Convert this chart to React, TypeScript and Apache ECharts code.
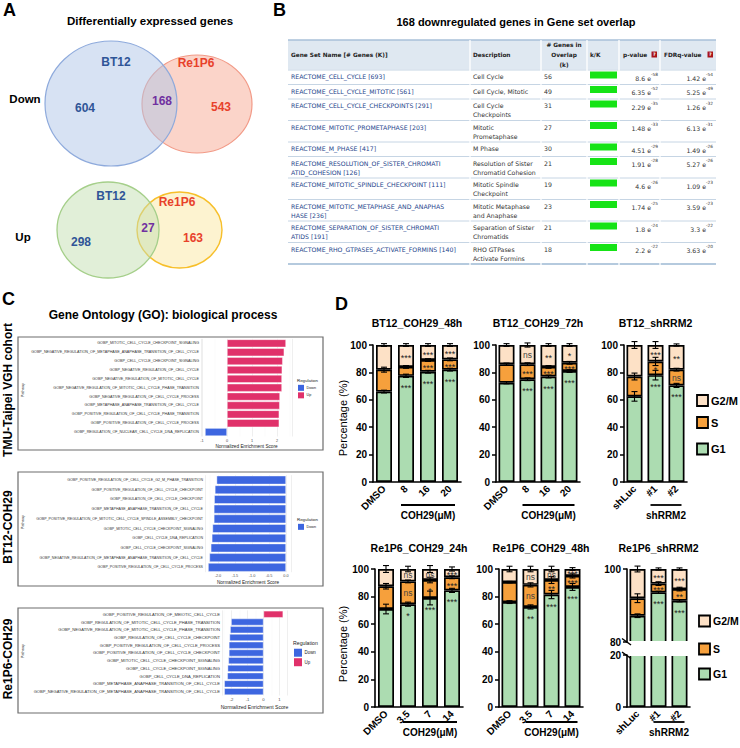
import { useEffect, useRef } from 'react';
import * as echarts from 'echarts';

const ARIAL = '"Liberation Sans", Arial, Helvetica, sans-serif';
const VERD = '"DejaVu Sans", Verdana, sans-serif';

// ---------------- Panel A: Venn counts ----------------
const vennSets = ['BT12', 'Re1P6'];
const vennDown = [604, 168, 543]; // BT12 only, shared, Re1P6 only
const vennUp = [298, 27, 163];

// ---------------- Panel B: gene set overlap table ----------------
const gsNameLines = [
  ['REACTOME_CELL_CYCLE [693]'],
  ['REACTOME_CELL_CYCLE_MITOTIC [561]'],
  ['REACTOME_CELL_CYCLE_CHECKPOINTS [291]'],
  ['REACTOME_MITOTIC_PROMETAPHASE [203]'],
  ['REACTOME_M_PHASE [417]'],
  ['REACTOME_RESOLUTION_OF_SISTER_CHROMATI', 'ATID_COHESION [126]'],
  ['REACTOME_MITOTIC_SPINDLE_CHECKPOINT [111]'],
  ['REACTOME_MITOTIC_METAPHASE_AND_ANAPHAS', 'HASE [236]'],
  ['REACTOME_SEPARATION_OF_SISTER_CHROMATI', 'ATIDS [191]'],
  ['REACTOME_RHO_GTPASES_ACTIVATE_FORMINS [140]'],
];
const gsDescLines = [
  ['Cell Cycle'],
  ['Cell Cycle, Mitotic'],
  ['Cell Cycle', 'Checkpoints'],
  ['Mitotic', 'Prometaphase'],
  ['M Phase'],
  ['Resolution of Sister', 'Chromatid Cohesion'],
  ['Mitotic Spindle', 'Checkpoint'],
  ['Mitotic Metaphase', 'and Anaphase'],
  ['Separation of Sister', 'Chromatids'],
  ['RHO GTPases', 'Activate Formins'],
];
const gsOverlap = [56, 49, 31, 27, 30, 21, 19, 23, 21, 18];
const gsPMant = ['8.6', '6.35', '2.29', '1.48', '4.51', '1.91', '4.6', '1.74', '1.8', '2.2'];
const gsPExp = [-58, -52, -35, -33, -29, -28, -26, -25, -24, -22];
const gsFdrMant = ['1.42', '5.25', '1.26', '6.13', '1.49', '5.27', '1.09', '3.59', '3.3', '3.63'];
const gsFdrExp = [-54, -49, -32, -31, -26, -26, -23, -23, -22, -20];

// ---------------- Panel C: GO enrichment ----------------
const tmuPathways = [
  'GOBP_MITOTIC_CELL_CYCLE_CHECKPOINT_SIGNALING',
  'GOBP_NEGATIVE_REGULATION_OF_METAPHASE_ANAPHASE_TRANSITION_OF_CELL_CYCLE',
  'GOBP_CELL_CYCLE_CHECKPOINT_SIGNALING',
  'GOBP_NEGATIVE_REGULATION_OF_CELL_CYCLE',
  'GOBP_NEGATIVE_REGULATION_OF_MITOTIC_CELL_CYCLE',
  'GOBP_NEGATIVE_REGULATION_OF_MITOTIC_CELL_CYCLE_PHASE_TRANSITION',
  'GOBP_NEGATIVE_REGULATION_OF_CELL_CYCLE_PROCESS',
  'GOBP_METAPHASE_ANAPHASE_TRANSITION_OF_CELL_CYCLE',
  'GOBP_POSITIVE_REGULATION_OF_CELL_CYCLE_PHASE_TRANSITION',
  'GOBP_POSITIVE_REGULATION_OF_CELL_CYCLE_PROCESS',
  'GOBP_REGULATION_OF_NUCLEAR_CELL_CYCLE_DNA_REPLICATION',
];
const tmuNES = [2.36, 2.29, 2.23, 2.21, 2.2, 2.2, 2.12, 2.11, 2.09, 2.09, -0.88];

const bt12Pathways = [
  'GOBP_POSITIVE_REGULATION_OF_CELL_CYCLE_G2_M_PHASE_TRANSITION',
  'GOBP_POSITIVE_REGULATION_OF_CELL_CYCLE_CHECKPOINT',
  'GOBP_REGULATION_OF_CELL_CYCLE_CHECKPOINT',
  'GOBP_METAPHASE_ANAPHASE_TRANSITION_OF_CELL_CYCLE',
  'GOBP_POSITIVE_REGULATION_OF_MITOTIC_CELL_CYCLE_SPINDLE_ASSEMBLY_CHECKPOINT',
  'GOBP_MITOTIC_CELL_CYCLE_CHECKPOINT_SIGNALING',
  'GOBP_CELL_CYCLE_DNA_REPLICATION',
  'GOBP_CELL_CYCLE_CHECKPOINT_SIGNALING',
  'GOBP_NEGATIVE_REGULATION_OF_METAPHASE_ANAPHASE_TRANSITION_OF_CELL_CYCLE',
  'GOBP_POSITIVE_REGULATION_OF_CELL_CYCLE_PROCESS',
];
const bt12NES = [-2.04, -2.09, -2.11, -2.12, -2.12, -2.16, -2.18, -2.21, -2.25, -2.29];

const re1p6Pathways = [
  'GOBP_POSITIVE_REGULATION_OF_MEIOTIC_CELL_CYCLE',
  'GOBP_REGULATION_OF_MITOTIC_CELL_CYCLE_PHASE_TRANSITION',
  'GOBP_NEGATIVE_REGULATION_OF_MITOTIC_CELL_CYCLE_PHASE_TRANSITION',
  'GOBP_REGULATION_OF_CELL_CYCLE_CHECKPOINT',
  'GOBP_POSITIVE_REGULATION_OF_CELL_CYCLE_PROCESS',
  'GOBP_POSITIVE_REGULATION_OF_CELL_CYCLE_CHECKPOINT',
  'GOBP_MITOTIC_CELL_CYCLE_CHECKPOINT_SIGNALING',
  'GOBP_CELL_CYCLE_CHECKPOINT_SIGNALING',
  'GOBP_CELL_CYCLE_DNA_REPLICATION',
  'GOBP_METAPHASE_ANAPHASE_TRANSITION_OF_CELL_CYCLE',
  'GOBP_NEGATIVE_REGULATION_OF_METAPHASE_ANAPHASE_TRANSITION_OF_CELL_CYCLE',
];
const re1p6NES = [1.23, -2.03, -2.09, -2.13, -2.17, -2.17, -2.2, -2.25, -2.27, -2.46, -2.46];

// ---------------- Panel D: cell-cycle distribution ----------------
const doseBT12 = ['DMSO', '8', '16', '20'];
const doseRe1P6 = ['DMSO', '3.5', '7', '14'];
const shLabels = ['shLuc', '#1', '#2'];
const phaseLegend = ['G2/M', 'S', 'G1'];

const bt12_48h_G1 = [66, 77.5, 80.5, 82];
const bt12_48h_S = [16, 6.5, 8.5, 7.5];
const bt12_48h_G2M = [18, 16, 11, 10.5];
const bt12_48h_errG1 = [1, 1.2, 1, 1];
const bt12_48h_errS = [1.8, 1, 1, 1];
const bt12_48h_errTop = [1, 1, 1, 1];
const bt12_48h_sig = [['', '', ''], ['***', '', '***'], ['***', '***', '***'], ['***', '***', '***']];

const bt12_72h_G1 = [72.5, 75, 77, 81];
const bt12_72h_S = [13.5, 11, 7, 6];
const bt12_72h_G2M = [14, 14, 16, 13];
const bt12_72h_errG1 = [0.8, 1, 1, 1];
const bt12_72h_errS = [0.8, 1, 1, 1];
const bt12_72h_errTop = [1, 1.5, 1, 1];
const bt12_72h_sig = [['', '', ''], ['ns', '***', '***'], ['**', '***', '***'], ['*', '***', '***']];

const bt12_sh_G1 = [62.5, 78, 70.5];
const bt12_sh_S = [14.5, 10, 11.5];
const bt12_sh_G2M = [23, 12, 18];
const bt12_sh_errG1 = [3.5, 3.5, 1.5];
const bt12_sh_errS = [2.5, 3, 1];
const bt12_sh_errTop = [2.5, 2.5, 0.8];
const bt12_sh_sig = [['', '', ''], ['***', '*', '***'], ['**', 'ns', '***']];

const re1p6_24h_G1 = [71, 74.5, 79, 84.5];
const re1p6_24h_S = [16.5, 16.5, 13, 9.5];
const re1p6_24h_G2M = [12.5, 9, 8, 6];
const re1p6_24h_errG1 = [3.5, 1.5, 5, 1.5];
const re1p6_24h_errS = [2, 1, 2, 1];
const re1p6_24h_errTop = [2.5, 2, 2.5, 1.5];
const re1p6_24h_sig = [['', '', ''], ['ns', 'ns', '*'], ['ns', '*', '***'], ['***', '***', '***']];

const re1p6_48h_G1 = [76, 72.5, 81.5, 87];
const re1p6_48h_S = [14.5, 16, 10.5, 8];
const re1p6_48h_G2M = [9.5, 11.5, 8, 5];
const re1p6_48h_errG1 = [1, 1.5, 3, 2.5];
const re1p6_48h_errS = [0.5, 1.5, 2.5, 1.5];
const re1p6_48h_errTop = [2, 2, 2, 1];
const re1p6_48h_sig = [['', '', ''], ['ns', 'ns', '**'], ['ns', '**', '***'], ['***', '***', '***']];

const re1p6_sh_G1 = [87.2, 93.6, 91.3];
const re1p6_sh_S = [4.8, 2.4, 3.2];
const re1p6_sh_G2M = [8, 4, 5.5];
const re1p6_sh_errG1 = [0.5, 0.3, 0.3];
const re1p6_sh_errS = [1.2, 0.5, 0.5];
const re1p6_sh_errTop = [0.8, 0.3, 0.3];
const re1p6_sh_sig = [['', '', ''], ['***', '***', '***'], ['***', '**', '***']];

// ---------------- styling ----------------
const BLUE_T = '#2f5597';
const RED_T = '#e8412b';
const PURPLE_T = '#7030a0';
const GO_DOWN = '#3d66e0';
const GO_UP = '#e0316a';
const C_G1 = '#acdcb1';
const C_S = '#f6a03c';
const C_G2M = '#fde1c6';

function buildOption() {
  const grid: any[] = [];
  const xAxis: any[] = [];
  const yAxis: any[] = [];
  const series: any[] = [];
  const g: any[] = [];

  const txt = (x: number, y: number, text: string, o: any = {}, extra: any = {}) => ({
    type: 'text', x, y, silent: true, ...extra,
    style: { text, fontFamily: ARIAL, fontSize: 10, fill: '#000', align: 'left', verticalAlign: 'middle', ...o },
  });
  const line = (x1: number, y1: number, x2: number, y2: number, stroke: string, lineWidth: number, extra: any = {}) => ({
    type: 'line', silent: true, shape: { x1, y1, x2, y2 }, style: { stroke, lineWidth }, ...extra,
  });
  const rect = (x: number, y: number, width: number, height: number, style: any, extra: any = {}) => ({
    type: 'rect', silent: true, shape: { x, y, width, height }, style, ...extra,
  });

  // panel letters
  const letter = { fontSize: 18, fontWeight: 'bold' };
  g.push(txt(3, 10, 'A', letter), txt(273, 10, 'B', letter), txt(2, 299, 'C', letter), txt(335, 304, 'D', letter));

  // ---------- Panel A ----------
  const bold12 = { fontSize: 12, fontWeight: 'bold', align: 'center' };
  g.push(txt(150, 21, 'Differentially expressed genes', { fontSize: 11.5, fontWeight: 'bold', align: 'center' }));
  g.push({ type: 'ellipse', silent: true, shape: { cx: 197, cy: 104, rx: 55, ry: 49 }, style: { fill: '#fbd4c9', stroke: '#f29a87', lineWidth: 1.2 } });
  g.push({ type: 'ellipse', silent: true, shape: { cx: 111, cy: 103.5, rx: 66, ry: 62.5 }, style: { fill: 'rgba(176,197,232,0.5)', stroke: '#8eaadc', lineWidth: 1.2 } });
  g.push(txt(25, 99, 'Down', { fontSize: 11.5, fontWeight: 'bold', align: 'center' }));
  g.push(txt(116, 62, vennSets[0], { ...bold12, fill: BLUE_T }));
  g.push(txt(196, 63, vennSets[1], { ...bold12, fill: RED_T }));
  g.push(txt(85, 108, String(vennDown[0]), { ...bold12, fill: BLUE_T }));
  g.push(txt(162, 101, String(vennDown[1]), { ...bold12, fill: PURPLE_T }));
  g.push(txt(221, 107, String(vennDown[2]), { ...bold12, fill: RED_T }));

  g.push({ type: 'ellipse', silent: true, shape: { cx: 179.5, cy: 230, rx: 42.5, ry: 38 }, style: { fill: '#fdf3d0', stroke: '#f7bf2a', lineWidth: 1.4 } });
  g.push({ type: 'ellipse', silent: true, shape: { cx: 108, cy: 230, rx: 51, ry: 48 }, style: { fill: 'rgba(196,224,178,0.5)', stroke: '#a5cf8a', lineWidth: 1.3 } });
  g.push(txt(23, 237, 'Up', { fontSize: 11.5, fontWeight: 'bold', align: 'center' }));
  g.push(txt(111, 196, vennSets[0], { ...bold12, fill: BLUE_T }));
  g.push(txt(177, 202, vennSets[1], { ...bold12, fill: RED_T }));
  g.push(txt(81, 242, String(vennUp[0]), { ...bold12, fill: BLUE_T }));
  g.push(txt(148, 228, String(vennUp[1]), { ...bold12, fill: PURPLE_T }));
  g.push(txt(193, 238, String(vennUp[2]), { ...bold12, fill: RED_T }));

  // ---------- Panel B ----------
  g.push(txt(516, 22, '168 downregulated genes in Gene set overlap', { fontSize: 11, fontWeight: 'bold', align: 'center' }));
  const tL = 288, tR = 716;
  const cols = [288, 470, 541, 587, 619, 660, 716];
  g.push(rect(tL, 40, tR - tL, 29.5, { fill: '#dfe8f1' }));
  g.push(line(tL, 40, tR, 40, '#a9c1d9', 1.5));
  const hdr = { fontFamily: VERD, fontSize: 5.8, fontWeight: 'bold', fill: '#222' };
  g.push(txt(291, 55, 'Gene Set Name [# Genes (K)]', hdr));
  g.push(txt(473, 55, 'Description', hdr));
  g.push(txt(564, 45, '# Genes in', { ...hdr, align: 'center' }));
  g.push(txt(564, 55, 'Overlap', { ...hdr, align: 'center' }));
  g.push(txt(564, 65, '(k)', { ...hdr, align: 'center' }));
  g.push(txt(590, 55, 'k/K', hdr));
  g.push(txt(623, 55, 'p-value', hdr));
  g.push(txt(664, 55, 'FDRq-value', hdr));
  [651.5, 707.5].forEach((qx) => {
    g.push(rect(qx, 51.5, 5.5, 6, { fill: '#a8151b' }));
    g.push(txt(qx + 2.75, 54.7, '?', { fontFamily: VERD, fontSize: 4.6, fontWeight: 'bold', fill: '#fff', align: 'center' }));
  });
  const cell = { fontFamily: VERD, fontSize: 6.2, fill: '#333' };
  let ry = 70;
  gsNameLines.forEach((nm, i) => {
    const n = Math.max(nm.length, gsDescLines[i].length);
    const h = n === 1 ? 14.5 : 21.5;
    g.push(line(tL, ry, tR, ry, '#c6d5e4', 1));
    nm.forEach((s, k) => g.push(txt(291, ry + 6.5 + k * 9.3, s, { ...cell, fill: '#25458c' })));
    gsDescLines[i].forEach((s, k) => g.push(txt(473, ry + 6.5 + k * 9.3, s, cell)));
    g.push(txt(544, ry + 6.5, String(gsOverlap[i]), cell));
    g.push(rect(590, ry + 1.5, 27, 7, { fill: '#16e316' }));
    const rich = {
      b: { fontFamily: VERD, fontSize: 6.2, fill: '#333', verticalAlign: 'bottom', lineHeight: 9 },
      s: { fontFamily: VERD, fontSize: 4.3, fill: '#333', verticalAlign: 'top', lineHeight: 5 },
    };
    g.push(txt(658, ry + 6.5, `{b|${gsPMant[i]} e}{s|${gsPExp[i]}}`, { rich, align: 'right' }));
    g.push(txt(713, ry + 6.5, `{b|${gsFdrMant[i]} e}{s|${gsFdrExp[i]}}`, { rich, align: 'right' }));
    ry += h;
  });
  g.push(line(tL, ry, tR, ry, '#9db8d3', 1.4));
  cols.slice(1, -1).forEach((cx) => g.push(line(cx, 40, cx, ry + 1, '#ffffff', 1.3)));

  // ---------- Panel C ----------
  g.push(txt(163, 315, 'Gene Ontology (GO): biological process', { fontSize: 12, fontWeight: 'bold', align: 'center' }));
  const boxes = [
    { y: 337, h: 113, label: 'TMU-Taipei VGH cohort', cy: 390, py: 390 },
    { y: 472, h: 114, label: 'BT12-COH29', cy: 527, py: 522 },
    { y: 608, h: 105, label: 'Re1P6-COH29', cy: 659, py: 651 },
  ];
  boxes.forEach((b) => {
    g.push(rect(18, b.y, 305, b.h, { fill: 'none', stroke: '#6d6d6d', lineWidth: 1.2 }));
    g.push(txt(8, b.cy, b.label, { fontSize: 12, fontWeight: 'bold', align: 'center' }, { rotation: Math.PI / 2 }));
    g.push(txt(22.5, b.py, 'Pathway', { fontSize: 3.6, fill: '#222', align: 'center' }, { rotation: Math.PI / 2 }));
  });

  const addGO = (names: string[], vals: number[], left: number, top: number, width: number, height: number,
    xmin: number, xmax: number, step: number, dec: number, labelSize: number, tickSize: number, nameSize: number, nameGap: number) => {
    const gi = grid.length;
    grid.push({ left, top, width, height });
    xAxis.push({
      type: 'value', gridIndex: gi, min: xmin, max: xmax, splitNumber: 5,
      axisLine: { show: false }, axisTick: { show: false },
      axisLabel: {
        fontSize: tickSize, color: '#4d4d4d', margin: 2, fontFamily: ARIAL,
        formatter: (v: number) => (Math.abs(v / step - Math.round(v / step)) < 1e-6 ? v.toFixed(dec) : ''),
      },
      splitLine: { show: true, lineStyle: { color: '#e4e4e4', width: 0.6 } },
      minorTick: { show: false, splitNumber: 2 },
      minorSplitLine: { show: true, lineStyle: { color: '#f2f2f2', width: 0.4 } },
      name: 'Normalized Enrichment Score', nameLocation: 'middle', nameGap,
      nameTextStyle: { fontSize: nameSize, color: '#222', fontFamily: ARIAL },
    });
    yAxis.push({
      type: 'category', gridIndex: gi, data: names, inverse: true,
      axisLine: { show: false }, axisTick: { show: false },
      axisLabel: { fontSize: labelSize, color: '#333', margin: 2, interval: 0, fontFamily: ARIAL },
      splitLine: { show: false },
    });
    series.push({
      type: 'bar', xAxisIndex: gi, yAxisIndex: gi, silent: true, barWidth: '90%',
      data: vals.map((v) => ({ value: v, itemStyle: { color: v < 0 ? GO_DOWN : GO_UP, borderColor: 'rgba(255,255,255,0.7)', borderWidth: 0.6 } })),
    });
  };
  addGO(tmuPathways, tmuNES, 201, 338.9, 91, 97.6, -1.04, 2.6, 1, 0, 3.7, 3.8, 4.7, 7);
  addGO(bt12Pathways, bt12NES, 205, 475.2, 86, 97, -2.38, 0.147, 0.5, 1, 3.6, 3.8, 4.7, 7.4);
  addGO(re1p6Pathways, re1p6NES, 222, 610.4, 65, 85.1, -2.6, 1.47, 1, 0, 4.1, 4.2, 5.1, 8.6);

  const legC = (x: number, y: number, box: number, fs: number, items: [string, string][]) => {
    g.push(txt(x, y, 'Regulation', { fontSize: fs, fill: '#222' }));
    items.forEach(([name, col], k) => {
      const by = y + fs * 1.1 + k * (box + 1.5);
      g.push(rect(x + 1, by, box, box, { fill: col }));
      g.push(txt(x + box + 3.5, by + box / 2, name, { fontSize: fs * 0.85, fill: '#222' }));
    });
  };
  legC(297, 380, 6, 4.4, [['Down', GO_DOWN], ['Up', GO_UP]]);
  legC(297, 519, 6, 4.4, [['Down', GO_DOWN]]);
  legC(293, 643, 8, 5.2, [['Down', GO_DOWN], ['Up', GO_UP]]);

  // ---------- Panel D ----------
  const errRender = (_p: any, api: any) => {
    const x = api.value(0), y = api.value(1), e = api.value(2);
    const a = api.coord([x, y + e]);
    const b = api.coord([x, y - e]);
    const st = { stroke: '#000', lineWidth: 1.1 };
    return {
      type: 'group', children: [
        { type: 'line', shape: { x1: a[0], y1: a[1], x2: b[0], y2: b[1] }, style: st },
        { type: 'line', shape: { x1: a[0] - 3, y1: a[1], x2: a[0] + 3, y2: a[1] }, style: st },
        { type: 'line', shape: { x1: b[0] - 3, y1: b[1], x2: b[0] + 3, y2: b[1] }, style: st },
      ],
    };
  };

  const addBars = (o: {
    cats: string[]; g1: number[]; s: number[]; g2m: number[]; eG1: number[]; eS: number[]; eTop: number[];
    sig: string[][] | null; left: number; top: number; width: number; height: number; min: number; max: number; showX: boolean;
  }) => {
    const gi = grid.length;
    grid.push({ left: o.left, top: o.top, width: o.width, height: o.height });
    xAxis.push({
      type: 'category', gridIndex: gi, data: o.cats, show: o.showX,
      axisLine: { lineStyle: { color: '#000', width: 1.6 } },
      axisTick: { alignWithLabel: true, length: 4, lineStyle: { color: '#000', width: 1.5 } },
      axisLabel: { rotate: 45, fontSize: 10, fontWeight: 'bold', color: '#000', margin: 5, fontFamily: ARIAL, interval: 0 },
    });
    yAxis.push({
      type: 'value', gridIndex: gi, min: o.min, max: o.max, interval: 20,
      axisLine: { show: true, lineStyle: { color: '#000', width: 1.6 } },
      axisTick: { show: true, length: 4, lineStyle: { color: '#000', width: 1.5 } },
      axisLabel: { fontSize: 10, fontWeight: 'bold', color: '#000', margin: 6, fontFamily: ARIAL },
      splitLine: { show: false },
    });
    const stack = 'st' + gi;
    ([[o.g1, C_G1], [o.s, C_S], [o.g2m, C_G2M]] as [number[], string][]).forEach(([vals, col]) => {
      series.push({
        type: 'bar', xAxisIndex: gi, yAxisIndex: gi, stack, data: vals, barWidth: 16, silent: true, clip: true,
        itemStyle: { color: col, borderColor: '#000', borderWidth: 1.7 },
      });
    });
    if (o.sig) {
      const errData: number[][] = [];
      const labData: number[][] = [];
      const labText: string[] = [];
      const labMode: string[] = [];
      o.g1.forEach((v, i) => {
        const t1 = v, t2 = v + o.s[i], t3 = t2 + o.g2m[i];
        errData.push([i, t1, o.eG1[i]], [i, t2, o.eS[i]], [i, t3, o.eTop[i]]);
        labData.push([i, t2, t3], [i, t1, t2], [i, 0, t1]);
        labText.push(o.sig![i][0], o.sig![i][1], o.sig![i][2]);
        labMode.push('mid', 'mid', 'below');
      });
      series.push({ type: 'custom', xAxisIndex: gi, yAxisIndex: gi, data: errData, renderItem: errRender, silent: true, z: 4 });
      series.push({
        type: 'custom', xAxisIndex: gi, yAxisIndex: gi, data: labData, silent: true, z: 5,
        renderItem: (p: any, api: any) => {
          const t = labText[p.dataIndex];
          if (!t) return null;
          const x = api.value(0), lo = api.value(1), hi = api.value(2);
          let pt: number[];
          if (labMode[p.dataIndex] === 'mid') pt = api.coord([x, (lo + hi) / 2]);
          else { const q = api.coord([x, hi]); pt = [q[0], q[1] + 10]; }
          const ns = t === 'ns';
          return {
            type: 'text', x: pt[0], y: pt[1] + (ns ? 0 : 2),
            style: { text: t, fontSize: ns ? 8.5 : 9, fill: ns ? '#444' : '#222', align: 'center', verticalAlign: 'middle', fontFamily: ARIAL },
          };
        },
      });
    }
    return gi;
  };

  const centers = (left: number, width: number, n: number) => Array.from({ length: n }, (_, i) => left + (width / n) * (i + 0.5));
  const groupLabel = (left: number, width: number, n: number, from: number, to: number, lineY: number, label: string) => {
    const c = centers(left, width, n);
    g.push(line(c[from] - 5, lineY, c[to] + 5, lineY, '#000', 1.8));
    g.push(txt((c[from] + c[to]) / 2, lineY + 10, label, { fontSize: 10, fontWeight: 'bold', align: 'center' }));
  };
  const title = (cx: number, y: number, s: string) => g.push(txt(cx, y, s, { fontSize: 10.5, fontWeight: 'bold', align: 'center' }));

  // top row
  const T1 = 345, H1 = 137;
  const charts1 = [
    { left: 373, width: 88, cats: doseBT12, g1: bt12_48h_G1, s: bt12_48h_S, g2m: bt12_48h_G2M, eG1: bt12_48h_errG1, eS: bt12_48h_errS, eTop: bt12_48h_errTop, sig: bt12_48h_sig, t: 'BT12_COH29_48h', gl: 'COH29(μM)' },
    { left: 496, width: 84, cats: doseBT12, g1: bt12_72h_G1, s: bt12_72h_S, g2m: bt12_72h_G2M, eG1: bt12_72h_errG1, eS: bt12_72h_errS, eTop: bt12_72h_errTop, sig: bt12_72h_sig, t: 'BT12_COH29_72h', gl: 'COH29(μM)' },
    { left: 624, width: 63, cats: shLabels, g1: bt12_sh_G1, s: bt12_sh_S, g2m: bt12_sh_G2M, eG1: bt12_sh_errG1, eS: bt12_sh_errS, eTop: bt12_sh_errTop, sig: bt12_sh_sig, t: 'BT12_shRRM2', gl: 'shRRM2' },
  ];
  charts1.forEach((c) => {
    addBars({ ...c, top: T1, height: H1, min: 0, max: 100, showX: true });
    title(c.left + c.width / 2, T1 - 22, c.t);
    groupLabel(c.left, c.width, c.cats.length, 1, c.cats.length - 1, 505, c.gl);
  });

  // bottom row
  const T2 = 569, H2 = 138;
  const charts2 = [
    { left: 375, width: 88, cats: doseRe1P6, g1: re1p6_24h_G1, s: re1p6_24h_S, g2m: re1p6_24h_G2M, eG1: re1p6_24h_errG1, eS: re1p6_24h_errS, eTop: re1p6_24h_errTop, sig: re1p6_24h_sig, t: 'Re1P6_COH29_24h', gl: 'COH29(μM)' },
    { left: 499, width: 84, cats: doseRe1P6, g1: re1p6_48h_G1, s: re1p6_48h_S, g2m: re1p6_48h_G2M, eG1: re1p6_48h_errG1, eS: re1p6_48h_errS, eTop: re1p6_48h_errTop, sig: re1p6_48h_sig, t: 'Re1P6_COH29_48h', gl: 'COH29(μM)' },
  ];
  charts2.forEach((c) => {
    addBars({ ...c, top: T2, height: H2, min: 0, max: 100, showX: true });
    title(c.left + c.width / 2, T2 - 21, c.t);
    groupLabel(c.left, c.width, c.cats.length, 1, c.cats.length - 1, 722, c.gl);
  });
  // broken-axis chart
  const bL = 627, bW = 63;
  addBars({ cats: shLabels, g1: re1p6_sh_G1, s: re1p6_sh_S, g2m: re1p6_sh_G2M, eG1: re1p6_sh_errG1, eS: re1p6_sh_errS, eTop: re1p6_sh_errTop, sig: re1p6_sh_sig, left: bL, top: 569, width: bW, height: 73, min: 80, max: 100, showX: false });
  addBars({ cats: shLabels, g1: re1p6_sh_G1, s: re1p6_sh_S, g2m: re1p6_sh_G2M, eG1: [], eS: [], eTop: [], sig: null, left: bL, top: 655, width: bW, height: 52, min: 0, max: 20, showX: true });
  title(bL + bW / 2, T2 - 21, 'Re1P6_shRRM2');
  groupLabel(bL, bW, 3, 1, 2, 722, 'shRRM2');
  // white gap across the break
  g.push(rect(bL + 1, 641, bW + 2, 15, { fill: '#ffffff' }, { z: 100 }));
  g.push(line(bL - 5, 638.5, bL + 4, 645, '#000', 1.5, { z: 101 }));
  g.push(line(bL - 5, 652, bL + 4, 658.5, '#000', 1.5, { z: 101 }));

  // y-axis names
  g.push(txt(343, 418, 'Percentage (%)', { fontSize: 11, align: 'center' }, { rotation: Math.PI / 2 }));
  g.push(txt(343, 644, 'Percentage (%)', { fontSize: 11, align: 'center' }, { rotation: Math.PI / 2 }));

  // legends
  const legD = (x: number, ys: number[], fs: number) => {
    const cs = [C_G2M, C_S, C_G1];
    ys.forEach((y, k) => {
      g.push(rect(x, y - 5.5, 11, 11, { fill: cs[k], stroke: '#000', lineWidth: 1.8 }));
      g.push(txt(x + 14, y, phaseLegend[k], { fontSize: fs, fontWeight: 'bold' }));
    });
  };
  legD(697, [400.5, 422.5, 449], 11);
  legD(699, [621, 649, 674], 10.5);

  return {
    animation: false,
    backgroundColor: '#ffffff',
    textStyle: { fontFamily: ARIAL },
    grid, xAxis, yAxis, series,
    graphic: { elements: g },
  };
}

export default function App() {
  const ref = useRef<HTMLDivElement>(null);
  useEffect(() => {
    if (!ref.current) return;
    const chart = echarts.init(ref.current, undefined, { renderer: 'svg', width: 740, height: 748 });
    chart.setOption(buildOption() as any);
    return () => chart.dispose();
  }, []);
  return <div ref={ref} style={{ position: 'absolute', left: 0, top: 0, width: 740, height: 748, background: '#fff' }} />;
}
